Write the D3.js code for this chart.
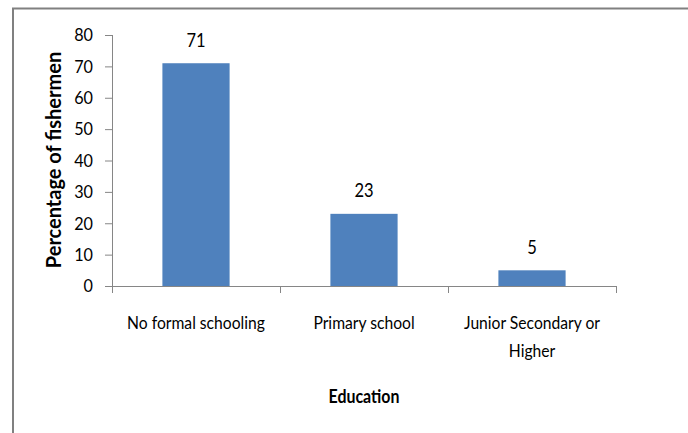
<!DOCTYPE html>
<html>
<head>
<meta charset="utf-8">
<script src="https://cdn.jsdelivr.net/npm/d3@7"></script>
<style>
  body { margin: 0; background: #fff; }
  svg { display: block; font-family: Lato, "Open Sans", sans-serif; }
</style>
</head>
<body>
<div id="chart"></div>
<script>
var categories = ["No formal schooling", "Primary school", "Junior Secondary or Higher"];
var values = [71, 23, 5];
var yTicks = [0, 10, 20, 30, 40, 50, 60, 70, 80];

var width = 688, height = 433;
var narrow = 0.87;   // the original font is narrower than Lato

var svg = d3.select("#chart").append("svg")
    .attr("width", width)
    .attr("height", height);

// chart frame (runs off the right and bottom edges)
svg.append("rect")
    .attr("x", 13).attr("y", 8.5)
    .attr("width", 700).attr("height", 450)
    .attr("fill", "none")
    .attr("stroke", "#808080")
    .attr("stroke-width", 2);

var plot = {left: 112, right: 616, top: 35, bottom: 286};

var x = d3.scaleBand()
    .domain(categories)
    .range([plot.left, plot.right])
    .paddingInner(0.6)
    .paddingOuter(0.3);

var y = d3.scaleLinear()
    .domain([0, 80])
    .range([plot.bottom, plot.top]);

// bars
svg.append("g").selectAll("rect")
    .data(values)
    .enter().append("rect")
        .attr("x", function(d, i) { return x(categories[i]); })
        .attr("y", function(d) { return y(d); })
        .attr("width", x.bandwidth())
        .attr("height", function(d) { return y(0) - y(d); })
        .attr("fill", "#4F81BD");

// value labels
svg.append("g").selectAll("text")
    .data(values)
    .enter().append("text")
        .attr("transform", function(d, i) {
            return "translate(" + (x(categories[i]) + x.bandwidth() / 2) + "," + (y(d) - 16.5) + ") scale(" + narrow + ",1)";
        })
        .attr("text-anchor", "middle")
        .attr("font-size", 19)
        .attr("fill", "#000")
        .text(function(d) { return d; });

// y axis
var yAxis = svg.append("g")
    .attr("transform", "translate(" + plot.left + ",0)")
    .call(d3.axisLeft(y).tickValues(yTicks).tickSize(7).tickPadding(12));
yAxis.select(".domain").attr("d", "M0.5," + plot.top + "V" + plot.bottom);
yAxis.selectAll("path, line").attr("stroke", "#868686");
yAxis.selectAll("text")
    .attr("font-size", 18)
    .attr("fill", "#000")
    .attr("font-family", "Lato, sans-serif")
    .attr("transform", "scale(0.9,1)")
    .attr("x", -19 / 0.9);

// x axis with ticks on category boundaries
var xAxisG = svg.append("g");
xAxisG.append("line")
    .attr("x1", plot.left).attr("x2", plot.right)
    .attr("y1", y(0) + 0.5).attr("y2", y(0) + 0.5)
    .attr("stroke", "#868686");
var step = (plot.right - plot.left) / categories.length;
xAxisG.selectAll("line.tick")
    .data(d3.range(categories.length + 1))
    .enter().append("line")
        .attr("class", "tick")
        .attr("x1", function(i) { return plot.left + i * step + 0.5; })
        .attr("x2", function(i) { return plot.left + i * step + 0.5; })
        .attr("y1", y(0)).attr("y2", y(0) + 7)
        .attr("stroke", "#868686");

// category labels (wrapped like the original)
var catLines = [["No formal schooling"], ["Primary school"], ["Junior Secondary or", "Higher"]];
svg.append("g").selectAll("text")
    .data(catLines)
    .enter().append("text")
        .attr("transform", function(d, i) {
            return "translate(" + (plot.left + (i + 0.5) * step) + ",329) scale(" + narrow + ",1)";
        })
        .attr("text-anchor", "middle")
        .attr("font-size", 18)
        .attr("fill", "#000")
        .each(function(lines) {
            var t = d3.select(this);
            lines.forEach(function(line, k) {
                t.append("tspan")
                    .attr("x", 0)
                    .attr("dy", k === 0 ? 0 : 28)
                    .text(line);
            });
        });

// axis titles
svg.append("text")
    .attr("transform", "translate(" + (plot.left + 1.5 * step) + ",403) scale(0.84,1)")
    .attr("text-anchor", "middle")
    .attr("font-size", 19)
    .attr("font-weight", "bold")
    .text("Education");

svg.append("text")
    .attr("transform", "translate(61,160) rotate(-90)")
    .attr("text-anchor", "middle")
    .attr("font-size", 20)
    .attr("font-weight", "bold")
    .text("Percentage of fishermen");
</script>
</body>
</html>
